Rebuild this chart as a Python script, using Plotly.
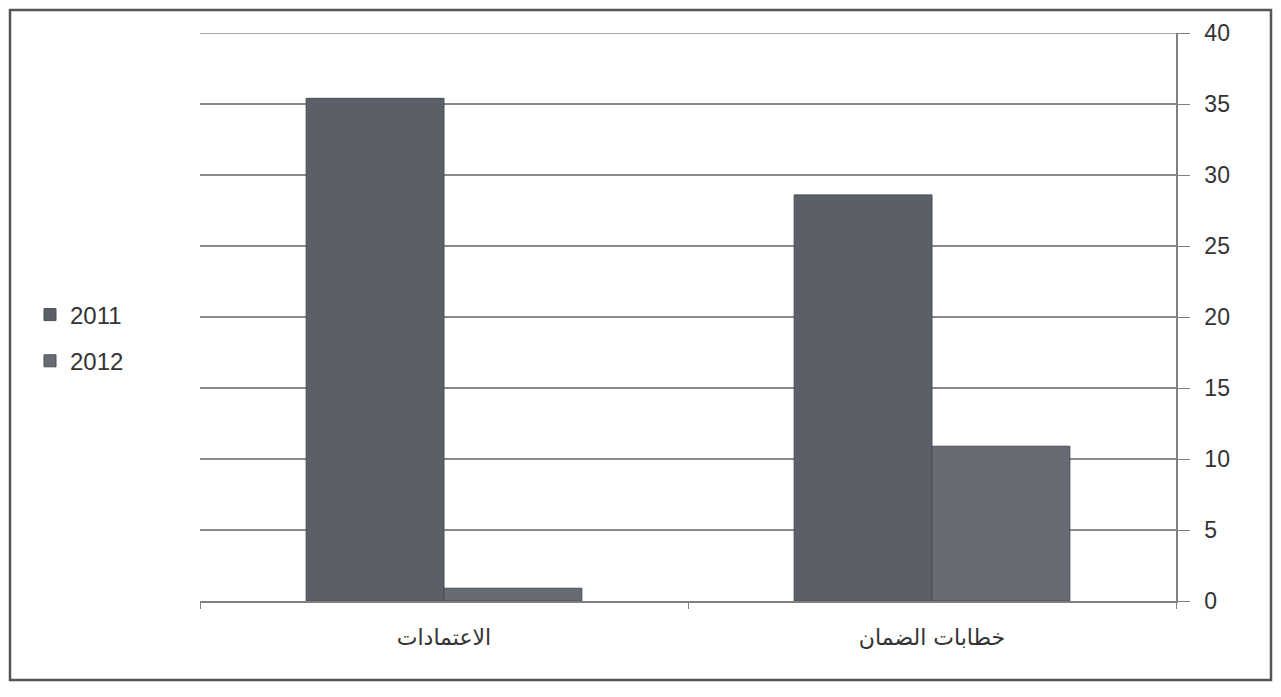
import plotly.graph_objects as go

categories = ["الاعتمادات", "خطابات الضمان"]
years = ["2011", "2012"]
values_2011 = [35.4, 28.6]
values_2012 = [0.9, 10.9]
y_ticks = [0, 5, 10, 15, 20, 25, 30, 35, 40]

colors = {"2011": "#5b5f67", "2012": "#676b73"}

fig = go.Figure()
for yr, vals in zip(years, [values_2011, values_2012]):
    fig.add_trace(go.Bar(
        x=categories, y=vals, name=yr, legendgroup=yr,
        marker=dict(color=colors[yr], line=dict(color="#4a4e55", width=1)),
    ))

OFF = 8  # html body margin
W, H = 1281 - 2 * OFF, 697 - 2 * OFF
# target plot-area edges in screenshot pixels
L, R, T, B = 200, 1176, 33, 601
ml, mr, mt, mb = L - OFF, W - (R - OFF), T - OFF, H - (B - OFF)
pw, ph = R - L, B - T

def px_x(p):
    return (p - L) / pw

def px_y(p):
    return (B - p) / ph

fig.update_layout(
    width=W, height=H,
    margin=dict(l=ml, r=mr, t=mt, b=mb),
    paper_bgcolor="white", plot_bgcolor="white",
    barmode="group", bargap=0.435, bargroupgap=0,
    font=dict(family="Liberation Sans, DejaVu Sans, Arial", color="#333333"),
    legend=dict(
        x=px_x(30), y=px_y(338), xanchor="left", yanchor="middle",
        font=dict(size=24, color="#333333"), tracegroupgap=12,
        bgcolor="rgba(0,0,0,0)",
    ),
    xaxis=dict(
        showgrid=False, showline=True, linecolor="#808080", linewidth=1.5,
        ticks="outside", tickson="boundaries", ticklen=6, tickcolor="#808080",
        ticklabelstandoff=16,
        tickfont=dict(size=22, family="DejaVu Sans, Noto Sans", color="#333333"),
        fixedrange=True,
    ),
    yaxis=dict(
        side="right", range=[0, 40], tickvals=y_ticks,
        showgrid=True, gridcolor="#8a8a8a", gridwidth=1.5,
        showline=True, linecolor="#808080", linewidth=1.5,
        ticks="outside", ticklen=12, tickcolor="#808080",
        ticklabelstandoff=10,
        tickfont=dict(size=23, color="#333333"), zeroline=False,
    ),
    shapes=[
        dict(type="line", xref="paper", yref="y", x0=0, x1=1,
             y0=y_ticks[-1], y1=y_ticks[-1],
             line=dict(color="#8a8a8a", width=1.5)),
        dict(type="rect", xref="paper", yref="paper",
             x0=px_x(10), x1=px_x(1271), y0=px_y(680), y1=px_y(10),
             line=dict(color="#555555", width=2.5)),
    ],
)

fig.write_html("out.html")
